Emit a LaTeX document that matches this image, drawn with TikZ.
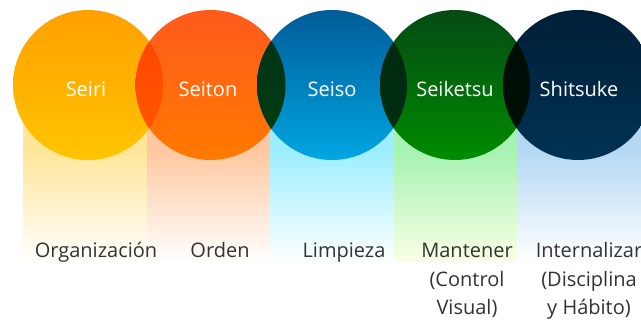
\documentclass[tikz,border=0pt]{standalone}
\usepackage{fontspec}
\setmainfont{Open Sans}
\definecolor{c1t}{HTML}{FFA000}\definecolor{c1b}{HTML}{FFC400}
\definecolor{c2t}{HTML}{FF5A1C}\definecolor{c2b}{HTML}{FF7A00}
\definecolor{c3t}{HTML}{005C98}\definecolor{c3b}{HTML}{00A6E2}
\definecolor{c4t}{HTML}{044A14}\definecolor{c4b}{HTML}{008C00}
\definecolor{c5t}{HTML}{001F38}\definecolor{c5b}{HTML}{003252}
\definecolor{l12t}{HTML}{FF4200}\definecolor{l12b}{HTML}{FF5A00}
\definecolor{l23t}{HTML}{00301A}\definecolor{l23b}{HTML}{00400E}
\definecolor{l34t}{HTML}{002812}\definecolor{l34b}{HTML}{003010}
\definecolor{l45t}{HTML}{000C06}\definecolor{l45b}{HTML}{001004}
\definecolor{b1}{HTML}{FFE699}\definecolor{b2}{HTML}{FFC8A0}
\definecolor{b3}{HTML}{9CEEFF}\definecolor{b4}{HTML}{A6F2B2}
\definecolor{b4e}{HTML}{FAFFE6}
\definecolor{b5}{HTML}{B4D8F4}
\definecolor{txt}{HTML}{333333}
\tikzset{
  x=1pt,y=1pt,
  circtext/.style={text=white,font=\fontsize{20}{24}\selectfont,inner sep=0pt,anchor=base},
  labtext/.style={text=txt,font=\fontsize{20}{28.5}\selectfont,align=center,anchor=base,inner sep=0pt},
}
\newcommand{\rr}{75}
\begin{document}
\begin{tikzpicture}
\useasboundingbox (0,0) rectangle (641,320);
\fill[white] (0,0) rectangle (641,320);
% bands
\shade[top color=b1,bottom color=white] (23,58) rectangle (147,170);
\shade[top color=b2,bottom color=white] (147,58) rectangle (270,170);
\shade[top color=b3,bottom color=white] (270,58) rectangle (394,170);
\shade[top color=b4,bottom color=b4e] (394,58) rectangle (517,170);
\shade[top color=b5,bottom color=white] (517,58) rectangle (641,170);
\fill[b1] (23,170) rectangle (147,200);
\fill[b2] (147,170) rectangle (270,200);
\fill[b3] (270,170) rectangle (394,200);
\fill[b4] (394,170) rectangle (517,200);
\fill[b5] (517,170) rectangle (641,200);
% circles
\coordinate (p1) at (88,235);
\coordinate (p2) at (210.5,235);
\coordinate (p3) at (332,235);
\coordinate (p4) at (455,235);
\coordinate (p5) at (578,235);
\shade[top color=c1t,bottom color=c1b] (p1) circle (\rr);
\shade[top color=c2t,bottom color=c2b] (p2) circle (\rr);
\shade[top color=c3t,bottom color=c3b] (p3) circle (\rr);
\shade[top color=c4t,bottom color=c4b] (p4) circle (\rr);
\shade[top color=c5t,bottom color=c5b] (p5) circle (\rr);
% overlaps
\begin{scope}\clip (p1) circle (\rr);
\shade[top color=l12t,bottom color=l12b] (p2) circle (\rr);\end{scope}
\begin{scope}\clip (p2) circle (\rr);
\shade[top color=l23t,bottom color=l23b] (p3) circle (\rr);\end{scope}
\begin{scope}\clip (p3) circle (\rr);
\shade[top color=l34t,bottom color=l34b] (p4) circle (\rr);\end{scope}
\begin{scope}\clip (p4) circle (\rr);
\shade[top color=l45t,bottom color=l45b] (p5) circle (\rr);\end{scope}
% circle texts
\node[circtext] (t1) at (86,223) {Seiri};
\node[circtext] (t2) at (208,223) {Seiton};
\node[circtext] (t3) at (332,223) {Seiso};
\node[circtext] (t4) at (455,223) {Seiketsu};
\node[circtext] (t5) at (579,223) {Shitsuke};
% labels
\node[labtext] (d1) at (96,62) {Organización};
\node[labtext] (d2) at (220,62) {Orden};
\node[labtext] (d3) at (344,62) {Limpieza};
\node[labtext] (d4) at (467,5) {Mantener\\(Control\\Visual)};
\node[labtext] (d5) at (589,5) {Internalizar\\(Disciplina\\y Hábito)};
\end{tikzpicture}
\end{document}
